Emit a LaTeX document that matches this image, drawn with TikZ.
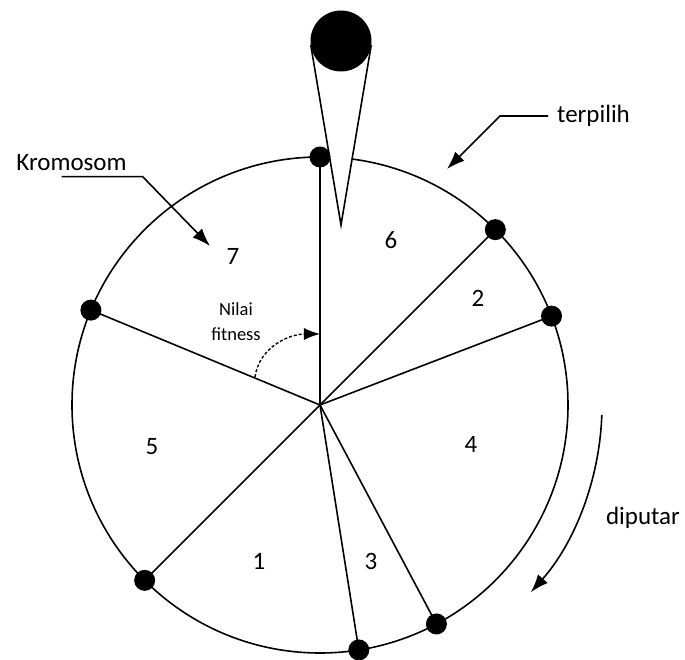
\documentclass[tikz,border=0pt]{standalone}
\usepackage{fontspec}
\setmainfont{Carlito}
\usetikzlibrary{arrows.meta}

\begin{document}
\begin{tikzpicture}[x=1pt,y=1pt]
	 \tikzstyle{dot}=[circle,fill=black,minimum size=21pt,inner sep=0pt]
	 \tikzstyle{spoke}=[draw,line width=1.6pt,black]
	 \tikzstyle{num}=[font=\fontsize{25}{29}\selectfont]
	 \tikzstyle{pointer}=[draw,line width=1.6pt,black,-{Latex[length=18pt,width=13pt]}]
	 \useasboundingbox (-320,-255) rectangle (365,405);

	 % wheel
	 \coordinate (c) at (0,0);
	 \draw[spoke] (c) circle (248);
	 \coordinate (b1) at (90:248);
	 \coordinate (b2) at (45:248);
	 \coordinate (b3) at (21:248);
	 \coordinate (b4) at (-62:248);
	 \coordinate (b5) at (-81:248);
	 \coordinate (b6) at (225:248);
	 \coordinate (b7) at (157.5:248);
	 \foreach \i in {1,...,7} \draw[spoke] (c) -- (b\i);

	 % needle
	 \coordinate (bc) at (21,364);
	 \coordinate (tip) at (21,180);
	 \draw[line width=1.6pt,fill=white] (tip) -- ([shift={(-9.5:30.5)}]bc) -- ([shift={(-170.5:30.5)}]bc) -- cycle;

	 \foreach \i in {1,...,7} \node[dot] (p\i) at (b\i) {};
	 \node[circle,fill=black,minimum size=61pt,inner sep=0pt] (ball) at (bc) {};

	 \node[num] (n6) at (71,165) {6};
	 \node[num] (n2) at (158,107) {2};
	 \node[num] (n4) at (151,-39) {4};
	 \node[num] (n3) at (51,-156) {3};
	 \node[num] (n1) at (-61,-156) {1};
	 \node[num] (n5) at (-168,-42) {5};
	 \node[num] (n7) at (-87,149) {7};

	 % labels
	 \node[num] (krom) at (-248.5,242) {Kromosom};
	 \coordinate (ka) at (-258.3,228.3);
	 \coordinate (kb) at (-177.3,228.3);
	 \coordinate (kt) at (-110,159);
	 \draw[pointer] (ka) -- (kb) -- (kt);

	 \node[num] (pilih) at (273.5,289) {terpilih};
	 \coordinate (ta) at (228,289);
	 \coordinate (tb) at (180,289);
	 \coordinate (tt) at (127,236);
	 \draw[pointer] (ta) -- (tb) -- (tt);

	 \node[align=center,font=\fontsize{18.5}{25}\selectfont] (fit) at (-84,83) {Nilai\\fitness};
	 \coordinate (fa) at (-65,28);
	 \coordinate (ft) at (0,71);
	 \draw[line width=1.4pt,dash pattern=on 3pt off 2pt,-{Latex[length=16pt,width=12pt]}] (fa) to[out=82,in=180] (ft);

	 \node[num] (putar) at (323,-113) {diputar};
	 \coordinate (ra) at (-2:282);
	 \draw[pointer] (ra) arc[start angle=-2,end angle=-41.6,radius=282];
\end{tikzpicture}
\end{document}
